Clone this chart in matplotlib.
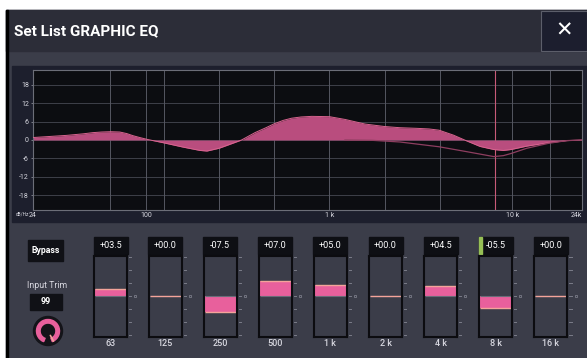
import numpy as np
import matplotlib
matplotlib.use("Agg")
import matplotlib.pyplot as plt
from matplotlib.patches import Rectangle, Circle, Wedge
from matplotlib.transforms import blended_transform_factory

# --- data ---
band_labels = ["63", "125", "250", "500", "1 k", "2 k", "4 k", "8 k", "16 k"]
band_freqs = [63, 125, 250, 500, 1000, 2000, 4000, 8000, 16000]
band_gains = [3.5, 0.0, -7.5, 7.0, 5.0, 0.0, 4.5, -5.5, 0.0]
selected_band = 7
input_trim = 99

# response curve (filled)
curve_hz = [24, 36.5, 45, 51, 57, 63.5, 71.5, 78, 84.5, 92, 101, 126, 158, 196, 214, 249, 280, 331,
            392, 450, 500, 560, 622, 700, 800, 1000, 1216, 1565, 1995, 2430, 2998, 3500, 3970, 4754,
            5626, 6650, 7900, 8916, 9823, 11970, 15700, 19800, 24000]
curve_db = [0.8, 1.5, 2.0, 2.4, 2.6, 2.7, 2.6, 2.1, 1.4, 0.8, 0.2, -1.0, -2.3, -3.4, -3.6, -2.7, -1.6, 0.0,
            2.4, 4.0, 5.3, 6.4, 7.1, 7.5, 7.7, 7.6, 6.7, 5.2, 4.4, 4.0, 3.8, 3.6, 3.2, 1.6,
            -0.3, -2.1, -3.1, -3.4, -3.1, -2.0, -0.9, -0.2, 0.0]

# thin secondary curve
line_hz = [1216, 1710, 2430, 3970, 5626, 7900, 8916, 9823, 11970, 15700, 19800, 24000]
line_db = [0.0, -0.1, -0.65, -2.2, -3.8, -5.4, -5.1, -4.4, -2.7, -1.1, -0.2, 0.0]

x_ticks = [24, 100, 1000, 10000, 24000]
x_ticklabels = ["24", "100", "1 k", "10 k", "24k"]
y_ticks = [-18, -12, -6, 0, 6, 12, 18]
grid_hz = [63, 100, 125, 250, 500, 1000, 2000, 4000, 10000, 16000]

# --- colours ---
body = "#3b3d49"
titlebar = "#2c2d38"
panel = "#1d1f2d"
plotbg = "#0c0d11"
pink = "#e8609c"
fillpink = "#b94d7e"
salmon = "#f4a49a"
txt = "#d8d8e0"

W, H = 587, 358
fig = plt.figure(figsize=(W / 100, H / 100), dpi=100)
fig.patch.set_facecolor("white")


def fig_rect(x0, y0, w, h):
    # pixel box (top-left origin) -> figure fraction
    return [x0 / W, (H - y0 - h) / H, w / W, h / H]


bg = fig.add_axes([0, 0, 1, 1], zorder=0)
bg.set_xlim(0, W)
bg.set_ylim(H, 0)
bg.axis("off")

bg.add_patch(Rectangle((6, 10), 581, 348, color=body))
bg.add_patch(Rectangle((6, 10), 581, 41, color=titlebar))
bg.add_patch(Rectangle((6, 10), 1.5, 348, color="black"))
bg.add_patch(Rectangle((541, 10.5), 46, 40.5, fc="#1c1e2e", ec="#5c5e6a", lw=0.8))
bg.text(14, 31, "Set List GRAPHIC EQ", color="white", fontsize=11, fontweight="bold",
        family="Roboto", va="center", ha="left")
bg.text(564, 31, "\u2715", color="white", fontsize=15, family="DejaVu Sans",
        va="center", ha="center")
bg.add_patch(Rectangle((12, 66), 575, 156, color=panel))
bg.text(22, 214.5, "dB/Hz", color=txt, fontsize=3.4, family="Roboto", ha="center", va="center")

# --- response graph ---
gx0, gx1, gy0, gy1 = 33, 582, 70, 210
ax = fig.add_axes(fig_rect(gx0, gy0, gx1 - gx0, gy1 - gy0), zorder=2)
ax.set_facecolor(plotbg)
ax.set_xscale("log")
ax.set_xlim(24, 24000)
ax.set_ylim(-22.8, 22.8)
for y in y_ticks:
    ax.axhline(y, color="#3e4049", lw=0.7, zorder=1)
for f in grid_hz:
    ax.axvline(f, color="#555761", lw=0.7, zorder=1)
ax.axvline(band_freqs[selected_band], color="#c85a78", lw=0.8, zorder=1)
ax.fill_between(curve_hz, curve_db, 0, color=fillpink, lw=0, zorder=2)
ax.plot(curve_hz, curve_db, color="#d8648f", lw=0.7, zorder=3)
ax.plot(line_hz, line_db, color="#8e3e60", lw=0.9, zorder=3)
ax.set_xticks(x_ticks)
ax.set_xticklabels(x_ticklabels)
ax.xaxis.set_minor_locator(matplotlib.ticker.NullLocator())
ax.set_yticks(y_ticks)
ax.set_yticklabels([str(v) for v in y_ticks])
ax.tick_params(axis="x", length=0, pad=1.5, labelsize=5, labelcolor=txt)
ax.tick_params(axis="y", length=1.5, width=0.6, pad=1.5, color="#8a8c96",
               labelsize=5, labelcolor=txt)
for lab in ax.get_xticklabels() + ax.get_yticklabels():
    lab.set_family("Roboto")
ax.get_xticklabels()[-1].set_horizontalalignment("right")
for s in ax.spines.values():
    s.set_color("#6c6e78")
    s.set_linewidth(0.8)

# --- left controls ---
bg.add_patch(Rectangle((28, 240), 35, 21, color="#101116"))
bg.text(45.5, 250.5, "Bypass", color="white", fontsize=6.3, fontweight="bold",
        family="Roboto", ha="center", va="center")
bg.text(47, 286, "Input Trim", color=txt, fontsize=6.3, family="Roboto",
        ha="center", va="center")
bg.add_patch(Rectangle((30, 294), 32, 15.5, color="#101116"))
bg.text(46, 301.8, str(input_trim), color="white", fontsize=6.5, fontweight="bold",
        family="Roboto", ha="center", va="center")
kx, ky = 48, 331
bg.add_patch(Circle((kx, ky), 14.5, color="#141419"))
bg.add_patch(Wedge((kx, ky), 11.5, 112, 428, width=3.6, color=pink))
a = np.deg2rad(62)
bg.plot([kx + 5 * np.cos(a), kx + 11.5 * np.cos(a)], [ky + 5 * np.sin(a), ky + 11.5 * np.sin(a)],
        color=salmon, lw=1.2, solid_capstyle="round")

# --- band sliders ---
ppd = 183.0
for i, (lab, f, g) in enumerate(zip(band_labels, band_freqs, band_gains)):
    cx = gx0 + (np.log10(f) - np.log10(24)) * ppd + 1
    # value box
    bg.add_patch(Rectangle((cx - 17, 237), 34, 17, color="#0e0f14"))
    if i == selected_band:
        bg.add_patch(Rectangle((cx - 17, 237), 3.3, 17, color="#96bf55"))
    bg.text(cx, 245.8, f"{g:+05.1f}", color="white", fontsize=6.5, family="Roboto",
            ha="center", va="center")
    bg.text(cx, 344, lab, color=txt, fontsize=6.5, family="Roboto", fontweight="medium",
            ha="center", va="center")

    sx = fig.add_axes(fig_rect(cx - 16.5, 255.7, 33, 81), zorder=2)
    sx.set_facecolor(body)
    sx.set_xlim(0, 1)
    sx.set_ylim(-18.75, 18.75)
    sx.set_xticks([])
    sx.set_yticks([])
    for s in sx.spines.values():
        s.set_color("#0c0c10")
        s.set_linewidth(1.5)
    sx.hlines(0, 0.03, 0.97, color="#6a6c78", lw=0.8)
    if g != 0:
        sx.bar(0.5, g, width=0.94, color=pink, lw=0)
    sx.hlines(g, 0.03, 0.97, color=salmon, lw=1.0)
    tr = blended_transform_factory(sx.transAxes, sx.transData)
    for t in y_ticks:
        sx.plot([1.06, 1.13], [t, t], color="#7a7c88", lw=0.7, transform=tr, clip_on=False)
    sx.plot([1.25], [0], marker="s", ms=2, mfc="none", mec="#7a7c88", mew=0.6,
            transform=tr, clip_on=False)

fig.savefig("out.png", dpi=100, facecolor=fig.get_facecolor())
